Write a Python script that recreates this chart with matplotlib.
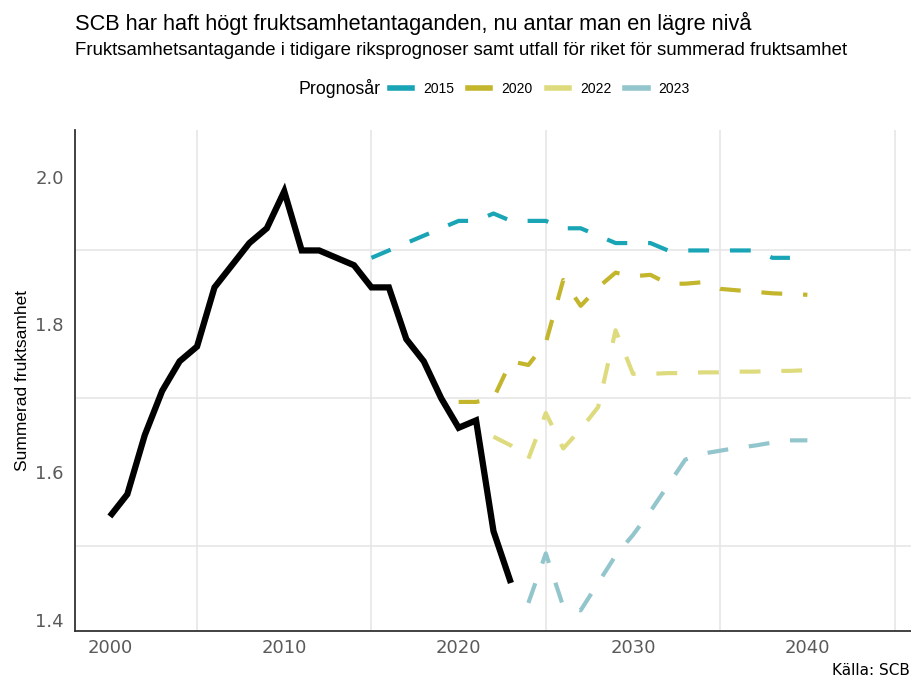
import matplotlib
matplotlib.use("Agg")
import matplotlib.pyplot as plt
from matplotlib.lines import Line2D

# utfall (summerad fruktsamhet för riket)
years_actual = list(range(2000, 2024))
actual = [1.54, 1.57, 1.65, 1.71, 1.75, 1.77, 1.85, 1.88, 1.91, 1.93,
          1.98, 1.90, 1.90, 1.89, 1.88, 1.85, 1.85, 1.78, 1.75, 1.70,
          1.66, 1.67, 1.52, 1.45]

# antaganden per prognosår
years_2015 = list(range(2015, 2040))
prog_2015 = [1.89, 1.90, 1.91, 1.92, 1.93, 1.94, 1.94, 1.95, 1.94, 1.94,
             1.94, 1.93, 1.93, 1.92, 1.91, 1.91, 1.91, 1.90, 1.90, 1.90,
             1.90, 1.90, 1.90, 1.89, 1.89]

years_2020 = list(range(2020, 2041))
prog_2020 = [1.695, 1.695, 1.70, 1.75, 1.745, 1.775, 1.86, 1.825, 1.85, 1.87,
             1.865, 1.867, 1.855, 1.855, 1.857, 1.848, 1.846, 1.844, 1.842,
             1.841, 1.840]

years_2022 = list(range(2022, 2041))
prog_2022 = [1.648, 1.636, 1.618, 1.68, 1.632, 1.658, 1.688, 1.792, 1.733,
             1.733, 1.734, 1.734, 1.735, 1.735, 1.736, 1.736, 1.737, 1.737,
             1.738]

years_2023 = list(range(2024, 2041))
prog_2023 = [1.423, 1.49, 1.418, 1.413, 1.45, 1.487, 1.515, 1.547, 1.582,
             1.617, 1.625, 1.629, 1.633, 1.636, 1.640, 1.643, 1.643]

series = [
    ("2015", years_2015, prog_2015, "#1aa5b6"),
    ("2020", years_2020, prog_2020, "#c3b52c"),
    ("2022", years_2022, prog_2022, "#dedb7e"),
    ("2023", years_2023, prog_2023, "#92c5cc"),
]

SANS = ["Liberation Sans", "DejaVu Sans"]
TICK_GREY = "#5a5a5a"

fig = plt.figure(figsize=(9.12, 6.79), dpi=100, facecolor="white")
ax = fig.add_axes([75 / 912, 1 - 631 / 679, (912 - 75) / 912, (631 - 130) / 679])

for label, xs, ys, col in series:
    ax.plot(xs, ys, color=col, lw=3.0, linestyle=(0, (5, 5)),
            dash_capstyle="butt", zorder=3)
ax.plot(years_actual, actual, color="black", lw=4.5,
        solid_joinstyle="miter", solid_capstyle="butt", zorder=4)

ax.set_xlim(1998.0, 2046.0)
ax.set_ylim(1.385, 2.063)
ax.set_xticks([2000, 2010, 2020, 2030, 2040])
ax.set_yticks([1.4, 1.6, 1.8, 2.0])
ax.set_yticklabels(["1.4", "1.6", "1.8", "2.0"])
ax.set_xticks([2005, 2015, 2025, 2035, 2045], minor=True)
ax.set_yticks([1.5, 1.7, 1.9], minor=True)
ax.grid(False, which="major")
ax.grid(True, which="minor", color="#e6e6e6", lw=1.2)
ax.set_axisbelow(True)
ax.tick_params(which="both", length=0)
ax.tick_params(axis="x", pad=6, labelsize=13, labelcolor=TICK_GREY)
ax.tick_params(axis="y", pad=8, labelsize=13, labelcolor=TICK_GREY)
for s in ("top", "right"):
    ax.spines[s].set_visible(False)
for s in ("left", "bottom"):
    ax.spines[s].set_color("#333333")
    ax.spines[s].set_linewidth(1.3)

ax.set_ylabel("Summerad fruktsamhet", fontsize=12.5, family=SANS,
              color="black", labelpad=4)

fig.text(75 / 912, 1 - 30 / 679,
         "SCB har haft högt fruktsamhetantaganden, nu antar man en lägre nivå",
         fontsize=15.7, family=SANS, ha="left", va="baseline")
fig.text(75 / 912, 1 - 55 / 679,
         "Fruktsamhetsantagande i tidigare riksprognoser samt utfall för riket "
         "för summerad fruktsamhet",
         fontsize=13.4, family=SANS, ha="left", va="baseline")

# legend: title to the left, entries in a row
fig.text(298 / 912, 1 - 89 / 679, "Prognosår", fontsize=12.8, family=SANS,
         ha="left", va="center")
handles = [Line2D([0], [0], color=col, lw=4) for _, _, _, col in series]
labels = [lab for lab, _, _, _ in series]
fig.legend(handles, labels, loc="center left",
           bbox_to_anchor=(390 / 912, 1 - 89 / 679), ncol=4, frameon=False,
           prop={"family": SANS, "size": 10}, handlelength=1.6,
           handletextpad=0.8, columnspacing=1.0, borderpad=0,
           borderaxespad=0)

fig.text(910 / 912, 1 - 675 / 679, "Källa: SCB", fontsize=11,
         ha="right", va="baseline")

fig.savefig("out.png", dpi=100, facecolor="white")
